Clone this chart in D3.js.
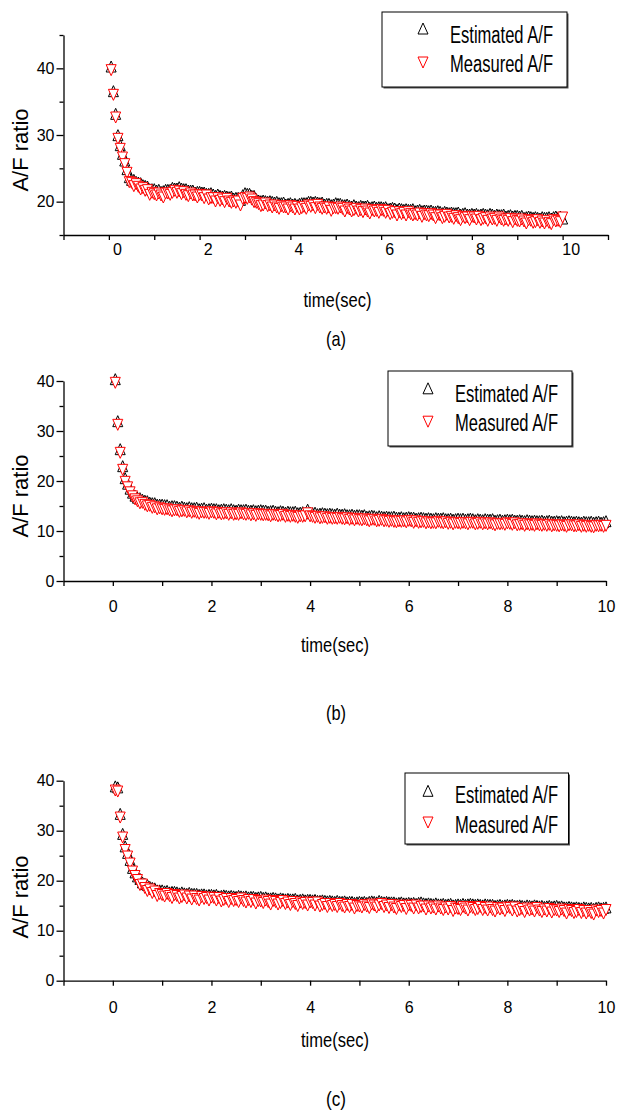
<!DOCTYPE html>
<html><head><meta charset="utf-8">
<script src="https://cdn.jsdelivr.net/npm/d3@7"></script>
<style>body{margin:0;background:#fff}svg{display:block}</style>
</head><body>
<svg id="c" width="617" height="1112"></svg>
<script>
// ---------------- DATA ----------------
const SAMPLE_DT = 0.05;              // sampling interval (s); sample i is at (i+1)*dt
const seriesNames = ["Estimated A/F", "Measured A/F"];
const panelCaptions = ["(a)", "(b)", "(c)"];
const xAxisTitle = "time(sec)";
const yAxisTitle = "A/F ratio";
const xTickLabels = [0, 2, 4, 6, 8, 10];
const yTickLabelsA = [20, 30, 40];
const yMinorA = [15, 25, 35, 45];
const yTickLabelsBC = [0, 10, 20, 30, 40];
const yMinorBC = [5, 15, 25, 35];

const estA = [
40.0,36.3,32.9,29.7,28.2,26.9,25.9,24.6,23.4,23.0,23.0,22.7,22.6,22.5,22.2,22.1,22.0,21.6,21.6,21.6,
21.4,21.5,21.2,21.3,21.5,21.5,21.5,21.8,21.7,21.7,21.9,21.7,21.6,21.6,21.4,21.4,21.4,21.1,21.2,21.2,
21.1,21.1,20.9,20.9,21.0,20.8,20.6,20.8,20.6,20.5,20.6,20.5,20.4,20.5,20.2,20.3,20.3,20.0,20.7,21.0,
20.9,20.9,20.6,20.6,20.1,19.9,19.8,19.9,19.8,19.7,19.8,19.7,19.6,19.7,19.5,19.5,19.6,19.3,19.4,19.5,
19.3,19.4,19.2,19.4,19.5,19.5,19.5,19.7,19.7,19.6,19.7,19.6,19.5,19.6,19.3,19.4,19.4,19.2,19.3,19.5,
19.4,19.4,19.2,19.2,19.3,19.1,19.0,19.2,19.0,18.9,19.1,19.0,19.0,19.1,18.8,18.9,19.0,18.8,18.9,18.9,
18.8,18.9,18.6,18.7,18.8,18.7,18.5,18.7,18.6,18.5,18.6,18.5,18.5,18.6,18.3,18.4,18.5,18.3,18.4,18.4,
18.3,18.4,18.2,18.2,18.3,18.2,18.0,18.2,18.1,18.0,18.1,18.0,18.0,18.1,17.8,17.9,18.0,17.8,17.8,17.9,
17.8,17.9,17.7,17.8,17.9,17.8,17.7,17.9,17.8,17.6,17.8,17.7,17.7,17.8,17.5,17.6,17.7,17.5,17.6,17.6,
17.5,17.6,17.3,17.4,17.5,17.4,17.3,17.4,17.3,17.2,17.4,17.3,17.3,17.4,17.2,17.4,17.5,17.3,17.5,17.2];
const measA = [
40.0,36.3,32.9,29.7,28.2,26.9,25.9,24.6,23.2,23.1,22.6,22.9,22.5,22.1,22.3,21.9,22.0,21.3,21.6,21.4,
21.2,21.5,21.2,20.9,21.5,21.5,21.3,21.6,21.9,21.6,21.8,21.4,21.7,21.3,21.1,21.5,21.2,21.2,20.9,21.3,
21.2,20.8,21.2,20.6,20.8,20.8,20.3,20.8,20.4,20.6,20.2,20.7,20.3,20.1,20.3,20.1,20.3,19.7,20.7,20.8,
20.7,20.9,20.6,20.2,20.1,19.9,19.6,19.7,20.0,19.6,19.7,19.4,19.7,19.4,19.2,19.6,19.4,19.4,19.1,19.6,
19.4,19.1,19.5,19.1,19.3,19.5,19.2,19.7,19.5,19.7,19.3,19.8,19.4,19.2,19.4,19.2,19.4,18.9,19.3,19.3,
19.2,19.4,19.2,18.8,19.3,19.1,18.8,19.0,19.2,18.8,19.0,18.7,19.1,18.8,18.5,19.0,18.8,18.9,18.6,19.0,
18.9,18.6,18.9,18.4,18.6,18.7,18.2,18.7,18.4,18.6,18.2,18.7,18.4,18.2,18.4,18.2,18.5,18.0,18.4,18.2,
18.1,18.4,18.2,17.8,18.3,18.2,17.8,18.0,18.3,17.9,18.0,17.7,18.1,17.8,17.5,18.0,17.8,17.9,17.5,18.0,
17.9,17.6,18.0,17.5,17.7,17.8,17.4,17.9,17.6,17.7,17.4,17.9,17.6,17.4,17.6,17.4,17.7,17.2,17.6,17.4,
17.3,17.6,17.3,17.0,17.5,17.4,17.1,17.2,17.5,17.1,17.3,17.0,17.4,17.1,16.9,17.5,17.3,17.4,17.2,17.9];

const estB = [
40.0,31.6,26.0,22.6,20.2,19.1,18.1,17.3,16.7,16.3,16.2,15.9,15.7,15.6,15.3,15.2,15.2,14.9,14.9,14.9,
14.8,14.8,14.5,14.6,14.6,14.5,14.3,14.5,14.3,14.2,14.4,14.2,14.2,14.3,14.0,14.1,14.2,13.9,14.0,14.1,
14.0,14.0,13.8,13.9,14.0,13.9,13.8,14.0,13.8,13.7,13.9,13.8,13.8,13.9,13.7,13.7,13.8,13.6,13.7,13.8,
13.7,13.7,13.5,13.6,13.7,13.5,13.4,13.6,13.5,13.3,13.5,13.4,13.4,13.5,13.2,13.3,13.4,13.2,13.9,13.3,
13.2,13.3,13.0,13.1,13.2,13.1,13.0,13.1,13.0,12.9,13.1,12.9,12.9,13.0,12.8,12.8,12.9,12.7,12.8,12.8,
12.7,12.8,12.5,12.6,12.7,12.6,12.4,12.6,12.5,12.4,12.5,12.4,12.4,12.5,12.3,12.3,12.4,12.2,12.3,12.4,
12.3,12.3,12.1,12.2,12.3,12.2,12.1,12.2,12.1,12.0,12.2,12.1,12.1,12.2,12.0,12.0,12.1,11.9,12.0,12.1,
12.0,12.1,11.9,12.0,12.1,12.0,11.8,12.0,11.9,11.8,12.0,11.9,11.9,12.0,11.7,11.8,11.9,11.7,11.8,11.9,
11.8,11.9,11.7,11.7,11.8,11.7,11.6,11.8,11.7,11.6,11.7,11.6,11.6,11.7,11.5,11.6,11.7,11.5,11.5,11.6,
11.5,11.6,11.4,11.5,11.6,11.5,11.4,11.5,11.4,11.3,11.5,11.4,11.4,11.5,11.3,11.4,11.5,11.3,11.4,11.6];
const measB = [
40.0,31.6,26.0,22.6,20.2,19.1,18.1,17.3,16.7,16.3,15.9,16.0,15.6,15.3,15.4,15.0,15.1,14.7,14.9,14.7,
14.6,14.7,14.5,14.3,14.5,14.5,14.2,14.3,14.4,14.1,14.3,14.0,14.2,14.0,13.8,14.1,14.0,14.0,13.8,14.1,
14.0,13.7,14.0,13.7,13.8,13.9,13.6,13.9,13.6,13.7,13.6,13.9,13.7,13.6,13.8,13.5,13.7,13.4,13.7,13.6,
13.5,13.6,13.5,13.3,13.6,13.5,13.3,13.4,13.6,13.2,13.4,13.2,13.4,13.2,13.0,13.3,13.2,13.3,13.9,13.3,
13.2,13.0,13.2,12.9,13.0,13.1,12.8,13.0,12.8,12.9,12.8,13.0,12.8,12.7,12.9,12.6,12.8,12.5,12.8,12.6,
12.5,12.7,12.5,12.3,12.6,12.6,12.3,12.4,12.6,12.3,12.4,12.2,12.4,12.2,12.1,12.3,12.2,12.3,12.1,12.4,
12.3,12.0,12.3,12.0,12.1,12.2,11.9,12.1,11.9,12.0,11.9,12.2,12.0,11.9,12.1,11.8,12.0,11.7,12.0,11.9,
11.8,12.0,11.9,11.7,12.0,12.0,11.7,11.8,12.0,11.7,11.9,11.7,11.9,11.7,11.5,11.8,11.7,11.8,11.6,11.9,
11.8,11.6,11.9,11.5,11.6,11.7,11.4,11.7,11.5,11.6,11.4,11.7,11.5,11.4,11.6,11.4,11.6,11.3,11.5,11.4,
11.3,11.5,11.4,11.2,11.5,11.5,11.3,11.3,11.5,11.2,11.4,11.2,11.4,11.2,11.1,11.4,11.3,11.4,11.2,11.4];

const estC = [
38.5,38.3,33.0,29.0,26.5,25.2,23.8,22.2,21.3,20.5,20.0,19.3,19.0,18.8,18.4,18.2,18.1,17.7,17.7,17.7,
17.5,17.6,17.3,17.4,17.4,17.3,17.1,17.3,17.1,17.0,17.2,17.0,17.0,17.0,16.8,16.9,16.9,16.7,16.8,16.8,
16.7,16.8,16.5,16.6,16.7,16.6,16.5,16.6,16.5,16.4,16.6,16.5,16.4,16.5,16.3,16.4,16.4,16.2,16.3,16.4,
16.2,16.3,16.1,16.1,16.2,16.1,15.9,16.1,16.0,15.9,16.0,15.9,15.9,16.0,15.7,15.8,15.9,15.7,15.8,15.8,
15.7,15.8,15.6,15.6,15.7,15.6,15.5,15.6,15.5,15.4,15.6,15.4,15.4,15.5,15.3,15.4,15.4,15.2,15.3,15.4,
15.3,15.4,15.2,15.4,15.5,15.4,15.3,15.6,15.4,15.3,15.4,15.3,15.3,15.3,15.1,15.2,15.3,15.1,15.1,15.2,
15.1,15.2,15.0,15.2,15.3,15.1,15.0,15.1,15.0,14.9,15.1,14.9,14.9,15.0,14.8,14.9,15.0,14.7,14.8,14.9,
14.8,15.0,14.8,14.9,15.0,14.9,14.8,14.9,14.8,14.7,14.9,14.8,14.8,14.8,14.6,14.7,14.8,14.6,14.7,14.8,
14.7,14.8,14.6,14.6,14.7,14.6,14.5,14.7,14.6,14.5,14.7,14.6,14.5,14.6,14.4,14.5,14.6,14.4,14.5,14.6,
14.4,14.5,14.3,14.3,14.4,14.3,14.2,14.3,14.2,14.1,14.3,14.2,14.1,14.2,14.0,14.2,14.3,14.1,14.2,14.3];
const measC = [
38.4,38.2,33.0,29.0,26.5,25.2,23.8,22.2,21.3,20.5,19.5,19.6,18.9,18.3,18.6,17.9,18.2,17.3,17.7,17.5,
17.2,17.7,17.3,16.9,17.5,17.3,16.8,17.1,17.4,16.8,17.2,16.6,17.2,16.7,16.4,17.1,16.7,16.9,16.4,17.0,
16.9,16.4,16.9,16.2,16.5,16.7,16.1,16.7,16.3,16.5,16.1,16.8,16.3,16.0,16.5,16.1,16.5,15.8,16.3,16.2,
15.9,16.4,16.1,15.6,16.3,16.1,15.6,15.9,16.3,15.7,16.0,15.5,16.1,15.7,15.3,16.0,15.7,15.9,15.4,16.0,
15.9,15.4,16.0,15.2,15.5,15.7,15.1,15.7,15.3,15.5,15.1,15.7,15.3,15.0,15.5,15.1,15.5,14.8,15.3,15.2,
15.0,15.5,15.2,14.9,15.6,15.4,15.0,15.4,15.7,15.1,15.4,14.9,15.5,15.0,14.7,15.4,15.1,15.3,14.7,15.4,
15.3,14.8,15.4,14.8,15.1,15.2,14.6,15.2,14.8,15.0,14.6,15.2,14.8,14.5,15.0,14.6,15.1,14.3,14.8,14.7,
14.5,15.1,14.8,14.4,15.1,14.9,14.5,14.7,15.1,14.5,14.9,14.4,15.0,14.5,14.2,14.9,14.6,14.8,14.3,15.0,
14.9,14.4,15.0,14.2,14.5,14.7,14.1,14.8,14.4,14.6,14.2,14.9,14.4,14.1,14.6,14.2,14.7,14.0,14.5,14.4,
14.1,14.6,14.3,13.8,14.5,14.3,13.9,14.1,14.5,13.9,14.3,13.8,14.3,13.9,13.6,14.4,14.1,14.3,13.8,14.5];

// ---------------- LAYOUT ----------------
const FONT = '"Liberation Sans", Arial, Helvetica, sans-serif';
const panels = [
  { est: estA, meas: measA, caption: panelCaptions[0],
    xDomain: [-1, 11], xRange: [63.5, 608], yDomain: [15, 45], yRange: [235, 35],
    yMajor: yTickLabelsA, yMinor: yMinorA, xPad: 4, xDx: 8,
    titleX: 337.5, titleY: 307, capY: 345.6, yLabY: 150,
    box: [382, 12, 185, 75], symX: 423, symY: [28.5, 62.5], textX: 450, textY: [42.7, 71.7] },
  { est: estB, meas: measB, caption: panelCaptions[1],
    xDomain: [-1, 10], xRange: [63.5, 606], yDomain: [0, 40], yRange: [581, 381],
    yMajor: yTickLabelsBC, yMinor: yMinorBC, xPad: 15, xDx: 0,
    titleX: 335, titleY: 652, capY: 720, yLabY: 496,
    box: [388, 371, 184, 75], symX: 428, symY: [388.3, 421.7], textX: 455, textY: [401.7, 430.7] },
  { est: estC, meas: measC, caption: panelCaptions[2],
    xDomain: [-1, 10], xRange: [63.5, 606], yDomain: [0, 40], yRange: [980.7, 780.7],
    yMajor: yTickLabelsBC, yMinor: yMinorBC, xPad: 15.5, xDx: 0,
    titleX: 335, titleY: 1047, capY: 1105.6, yLabY: 897,
    box: [405, 773, 163.5, 71], symX: 428, symY: [790.8, 822.5], textX: 455, textY: [803.3, 832.7] }
];

const MW = 10, MH = 11;
const upPath = `M0,${-2*MH/3}L${MW/2},${MH/3}L${-MW/2},${MH/3}Z`;
const downPath = `M${-MW/2},${-MH/3}L${MW/2},${-MH/3}L0,${2*MH/3}Z`;
const colors = ["#000000", "#ff0000"];

const svg = d3.select("#c");

panels.forEach(p => {
  const x = d3.scaleLinear().domain(p.xDomain).range(p.xRange);
  const y = d3.scaleLinear().domain(p.yDomain).range(p.yRange);
  const g = svg.append("g");
  const time = i => +((i + 1) * SAMPLE_DT).toFixed(2);

  // series: estimated first, measured on top
  [[p.est, upPath, colors[0]], [p.meas, downPath, colors[1]]].forEach(([vals, shape, col]) => {
    g.append("g").selectAll("path").data(vals).join("path")
      .attr("d", shape)
      .attr("transform", (d, i) => `translate(${x(time(i))},${y(d)})`)
      .attr("fill", "#fff").attr("stroke", col).attr("stroke-width", 1);
  });

  // axes
  const xTicks = d3.range(p.xDomain[0], p.xDomain[1] + 1);
  const xa = g.append("g").attr("transform", `translate(0,${p.yRange[0]})`)
    .call(d3.axisBottom(x).tickValues(xTicks).tickSize(5).tickPadding(p.xPad).tickSizeOuter(0)
      .tickFormat(d => xTickLabels.includes(d) ? String(d) : ""));
  xa.selectAll("text").attr("dx", p.xDx);

  const ya = g.append("g").attr("transform", `translate(${p.xRange[0]},0)`)
    .call(d3.axisLeft(y).tickValues(p.yMajor).tickSize(7).tickPadding(2).tickSizeOuter(0));
  g.append("g").attr("transform", `translate(${p.xRange[0]},0)`)
    .call(d3.axisLeft(y).tickValues(p.yMinor).tickSize(4).tickSizeOuter(0).tickFormat(""))
    .select(".domain").remove();

  g.selectAll(".tick line, .domain").attr("stroke", "#000").attr("stroke-width", 1.3);
  [xa, ya].forEach(a => a.attr("font-family", FONT).attr("font-size", 16)
    .selectAll("text").attr("fill", "#000"));

  // axis titles
  g.append("text").attr("x", p.titleX).attr("y", p.titleY)
    .attr("text-anchor", "middle").attr("font-family", FONT).attr("font-size", 21)
    .attr("textLength", 68).attr("lengthAdjust", "spacingAndGlyphs").text(xAxisTitle);
  g.append("text").attr("transform", `translate(28,${p.yLabY}) rotate(-90)`)
    .attr("text-anchor", "middle").attr("font-family", FONT).attr("font-size", 22)
    .text(yAxisTitle);
  g.append("text").attr("x", 336).attr("y", p.capY)
    .attr("text-anchor", "middle").attr("font-family", FONT).attr("font-size", 21)
    .attr("textLength", 20).attr("lengthAdjust", "spacingAndGlyphs").text(p.caption);

  // legend
  const [bx, by, bw, bh] = p.box;
  g.append("rect").attr("x", bx + 1.5).attr("y", by + 1.5).attr("width", bw).attr("height", bh)
    .attr("fill", "#555");
  g.append("rect").attr("x", bx).attr("y", by).attr("width", bw).attr("height", bh)
    .attr("fill", "#fff").attr("stroke", "#000").attr("stroke-width", 1);
  [upPath, downPath].forEach((shape, k) => {
    const off = k === 0 ? MH / 6 : -MH / 6;
    g.append("path").attr("d", shape)
      .attr("transform", `translate(${p.symX},${p.symY[k] + off})`)
      .attr("fill", "#fff").attr("stroke", colors[k]).attr("stroke-width", 1);
    g.append("text").attr("x", p.textX).attr("y", p.textY[k])
      .attr("font-family", FONT).attr("font-size", 23)
      .attr("textLength", 103).attr("lengthAdjust", "spacingAndGlyphs")
      .text(seriesNames[k]);
  });
});
</script>
</body></html>
